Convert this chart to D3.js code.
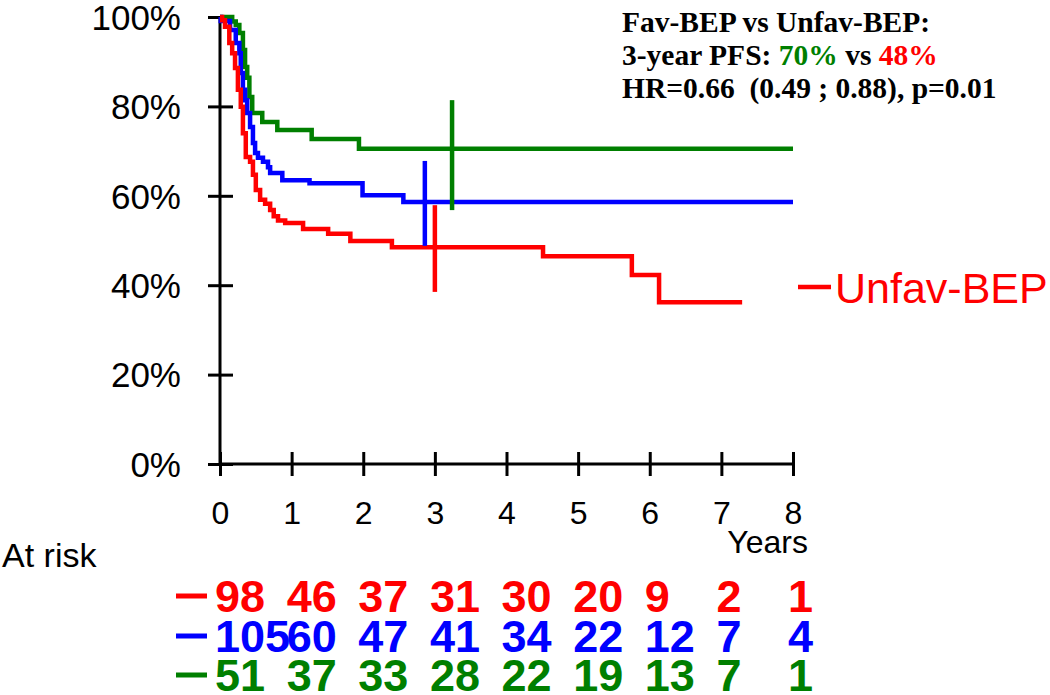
<!DOCTYPE html>
<html>
<head>
<meta charset="utf-8">
<script src="https://cdn.jsdelivr.net/npm/d3@7"></script>
<style>
  body { margin: 0; background: #fff; }
  svg text { font-family: "Liberation Sans", Arial, sans-serif; }
</style>
</head>
<body>
<script>
// years on the x axis, survival ticks on the y axis
var YEARS = [0, 1, 2, 3, 4, 5, 6, 7, 8];
var Y_TICKS = [0, 0.2, 0.4, 0.6, 0.8, 1];

// Kaplan-Meier steps: time (years) of each drop, survival after it
var UNFAV_T = [0, 0.03, 0.07, 0.13, 0.17, 0.21, 0.25, 0.29, 0.32, 0.36, 0.42, 0.46, 0.50, 0.56, 0.63, 0.70, 0.75, 0.81, 0.91, 1.16, 1.51, 1.82, 2.40, 4.51, 5.75, 6.13, 7.29];
var UNFAV_S = [1, 0.993, 0.978, 0.942, 0.919, 0.886, 0.837, 0.799, 0.74, 0.687, 0.676, 0.647, 0.613, 0.591, 0.582, 0.568, 0.554, 0.545, 0.539, 0.526, 0.515, 0.499, 0.485, 0.465, 0.423, 0.362, 0.362];

var MID_T = [0, 0.01, 0.14, 0.22, 0.27, 0.29, 0.32, 0.35, 0.38, 0.42, 0.46, 0.49, 0.53, 0.60, 0.67, 0.70, 0.87, 1.25, 1.99, 2.56, 8.0];
var MID_S = [1, 0.991, 0.971, 0.942, 0.919, 0.875, 0.837, 0.814, 0.785, 0.754, 0.718, 0.696, 0.685, 0.676, 0.664, 0.651, 0.635, 0.628, 0.601, 0.586, 0.586];

var FAV_T = [0, 0.17, 0.22, 0.27, 0.32, 0.35, 0.38, 0.41, 0.45, 0.59, 0.80, 1.28, 1.94, 8.0];
var FAV_S = [1, 0.99, 0.982, 0.964, 0.926, 0.888, 0.864, 0.821, 0.785, 0.765, 0.747, 0.727, 0.705, 0.705];

// 3-year confidence bars (red, blue, green)
var CI_T = [3.0, 2.86, 3.24];
var CI_LOW = [0.385, 0.488, 0.568];
var CI_HIGH = [0.579, 0.678, 0.814];

// numbers at risk
var RISK_UNFAV = [98, 46, 37, 31, 30, 20, 9, 2, 1];
var RISK_MID = [105, 60, 47, 41, 34, 22, 12, 7, 4];
var RISK_FAV = [51, 37, 33, 28, 22, 19, 13, 7, 1];

var RED = "#ff0000", BLUE = "#0000ff", GREEN = "#007f00";

var w = 1050, h = 695;

var svg = d3.select("body").append("svg").attr("width", w).attr("height", h);

var x = d3.scaleLinear().domain([0, 8]).range([220, 793]);
var y = d3.scaleLinear().domain([0, 1]).range([464, 17]);

// axes
var yAxis = d3.axisLeft(y).tickValues(Y_TICKS).tickSize(12).tickFormat(function (d) { return Math.round(d * 100) + "%"; });
var gy = svg.append("g").attr("transform", "translate(" + x(0) + ",0)").call(yAxis);
gy.select(".domain").attr("stroke", "#000").attr("stroke-width", 3).attr("d", "M0," + y(0) + "V" + y(1));
gy.selectAll(".tick line").attr("x1", -12).attr("x2", 13).attr("stroke", "#000").attr("stroke-width", 3);
gy.selectAll(".tick text").attr("x", -39).attr("dy", "0.35em").attr("font-size", 35).attr("fill", "#000")
  .style("font-family", "Liberation Sans, Arial, sans-serif");

var xAxis = d3.axisBottom(x).tickValues(YEARS).tickSize(12).tickFormat(d3.format("d"));
var gx = svg.append("g").attr("transform", "translate(0," + y(0) + ")").call(xAxis);
gx.select(".domain").attr("stroke", "#000").attr("stroke-width", 3).attr("d", "M" + x(0) + ",0H" + x(8));
gx.selectAll(".tick line").attr("y1", -12).attr("y2", 12).attr("stroke", "#000").attr("stroke-width", 3);
gx.selectAll(".tick text").attr("y", 38).attr("dy", "0.7em").attr("font-size", 32).attr("fill", "#000")
  .style("font-family", "Liberation Sans, Arial, sans-serif");

svg.append("text").attr("x", 808).attr("y", 553).attr("text-anchor", "end").attr("font-size", 32).text("Years");

// curves
var line = d3.line().curve(d3.curveStepAfter).x(function (d) { return x(d[0]); }).y(function (d) { return y(d[1]); });
var curves = [
  { t: FAV_T, s: FAV_S, color: GREEN },
  { t: MID_T, s: MID_S, color: BLUE },
  { t: UNFAV_T, s: UNFAV_S, color: RED }
];
curves.forEach(function (c) {
  svg.append("path").datum(d3.zip(c.t, c.s)).attr("d", line)
    .attr("fill", "none").attr("stroke", c.color).attr("stroke-width", 4.5);
});

var ciColors = [RED, BLUE, GREEN];
svg.selectAll("line.ci").data(CI_T).enter().append("line").attr("class", "ci")
  .attr("x1", function (d) { return x(d); }).attr("x2", function (d) { return x(d); })
  .attr("y1", function (d, i) { return y(CI_LOW[i]); }).attr("y2", function (d, i) { return y(CI_HIGH[i]); })
  .attr("stroke", function (d, i) { return ciColors[i]; }).attr("stroke-width", 4.5);

// label for the red curve
svg.append("line").attr("x1", 798).attr("x2", 831).attr("y1", 287).attr("y2", 287).attr("stroke", RED).attr("stroke-width", 4.5);
svg.append("text").attr("x", 835).attr("y", 303).attr("font-size", 43).attr("fill", RED).text("Unfav-BEP");

// annotation
var note = svg.append("text").attr("x", 622).attr("font-size", 29.5).attr("font-weight", "bold")
  .style("font-family", "Liberation Serif, Times New Roman, serif");
note.append("tspan").attr("x", 622).attr("y", 32).text("Fav-BEP vs Unfav-BEP:");
var l2 = note.append("tspan").attr("x", 622).attr("y", 65);
l2.append("tspan").text("3-year PFS: ");
l2.append("tspan").attr("fill", GREEN).text("70%");
l2.append("tspan").text(" vs ");
l2.append("tspan").attr("fill", RED).text("48%");
note.append("tspan").attr("x", 622).attr("y", 98).text("HR=0.66\u00a0 (0.49 ; 0.88), p=0.01");

// at risk table
svg.append("text").attr("x", 2).attr("y", 567).attr("font-size", 34).text("At risk");
var rows = [
  { n: RISK_UNFAV, color: RED, y: 596 },
  { n: RISK_MID, color: BLUE, y: 636 },
  { n: RISK_FAV, color: GREEN, y: 675 }
];
rows.forEach(function (r) {
  svg.append("line").attr("x1", 176).attr("x2", 207).attr("y1", r.y).attr("y2", r.y)
    .attr("stroke", r.color).attr("stroke-width", 5);
  svg.selectAll(null).data(r.n).enter().append("text")
    .attr("x", function (d, i) { return x(YEARS[i]) - 5; })
    .attr("y", r.y + 16)
    .attr("font-size", 45).attr("font-weight", "bold").attr("fill", r.color)
    .text(function (d) { return d; });
});
</script>
</body>
</html>
